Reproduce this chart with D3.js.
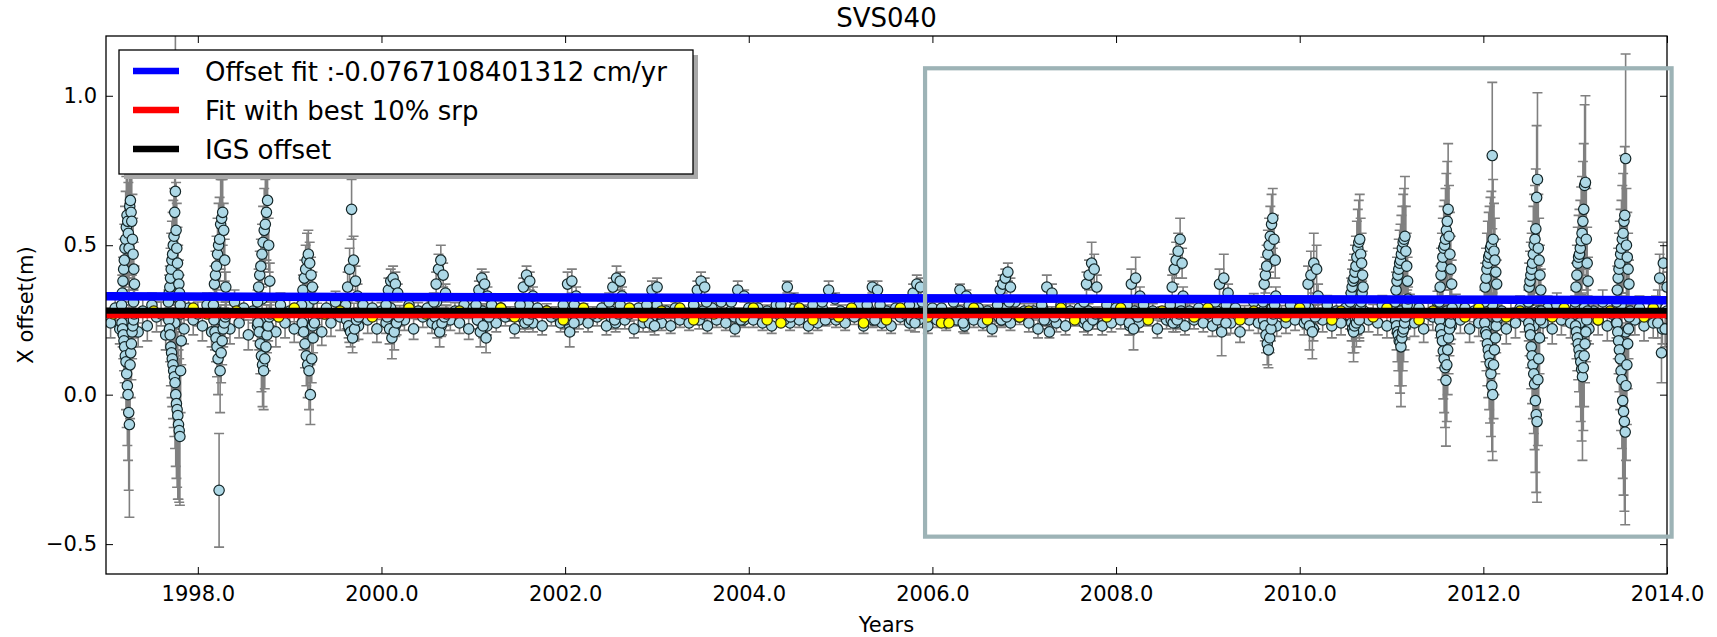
<!DOCTYPE html>
<html lang="en">
<head>
<meta charset="UTF-8">
<title>SVS040</title>
<script src="https://cdn.jsdelivr.net/npm/d3@7"></script>
<style>
  body { margin: 0; background: #fff; }
  svg text { font-family: "DejaVu Sans", sans-serif; fill: #000; }
</style>
</head>
<body>
<svg id="chart" width="1717" height="637"></svg>
<script>
// ---- data ----
const title = 'SVS040';
const xLabel = 'Years';
const yLabel = 'X offset(m)';
const xDomain = [1997.0, 2014.0];
const yDomain = [-0.6, 1.2];
const xTicks = [1998, 2000, 2002, 2004, 2006, 2008, 2010, 2012, 2014];
const yTicks = [-0.5, 0.0, 0.5, 1.0];

const legendLabels = ['Offset fit :-0.0767108401312 cm/yr', 'Fit with best 10% srp', 'IGS offset'];

// fitted lines, [year, offset]
const offsetFit = [[1997.0, 0.329], [2014.0, 0.316]];
const bestFit = [[1997.0, 0.266], [2014.0, 0.266]];
const igsOffset = [[1997.0, 0.281], [2014.0, 0.281]];

// zoom window drawn on the chart (years / metres)
const zoomWindow = [2005.92, 2014.05, -0.475, 1.092];

// quiet-period solutions, one every 0.1 yr
const bandStart = 1997.05;
const bandLow = [
  0.24,0.22,0.25,0.21,0.23,0.26,0.20,0.24,0.22,0.25, // 1997
  0.23,0.21,0.25,0.22,0.24,0.20,0.23,0.25,0.21,0.24, // 1998
  0.22,0.25,0.23,0.21,0.24,0.26,0.22,0.23,0.25,0.22, // 1999
  0.24,0.23,0.25,0.22,0.26,0.24,0.23,0.25,0.24,0.22, // 2000
  0.25,0.23,0.24,0.26,0.22,0.25,0.24,0.23,0.26,0.24, // 2001
  0.23,0.25,0.24,0.26,0.23,0.24,0.25,0.22,0.24,0.26, // 2002
  0.24,0.23,0.25,0.24,0.26,0.23,0.25,0.24,0.22,0.25, // 2003
  0.25,0.24,0.23,0.26,0.24,0.25,0.23,0.24,0.26,0.25, // 2004
  0.24,0.26,0.23,0.25,0.24,0.23,0.26,0.24,0.25,0.23, // 2005
  0.25,0.24,0.26,0.23,0.25,0.24,0.22,0.25,0.24,0.26, // 2006
  0.24,0.22,0.25,0.24,0.23,0.26,0.24,0.25,0.23,0.24, // 2007
  0.25,0.23,0.24,0.26,0.22,0.25,0.24,0.23,0.25,0.24, // 2008
  0.23,0.25,0.24,0.21,0.25,0.24,0.26,0.23,0.24,0.25, // 2009
  0.24,0.22,0.25,0.23,0.24,0.26,0.22,0.25,0.24,0.23, // 2010
  0.25,0.23,0.24,0.22,0.26,0.24,0.23,0.25,0.22,0.24, // 2011
  0.23,0.25,0.22,0.24,0.26,0.23,0.24,0.22,0.25,0.24, // 2012
  0.24,0.22,0.25,0.23,0.24,0.21,0.25,0.23,0.24,0.22  // 2013
];
const bandHigh = [
  0.29,0.27,0.31,0.28,0.30,0.27,0.32,0.28,0.29,0.27, // 1997
  0.30,0.28,0.27,0.31,0.29,0.28,0.32,0.27,0.30,0.28, // 1998
  0.28,0.30,0.27,0.29,0.31,0.28,0.27,0.30,0.29,0.28, // 1999
  0.29,0.27,0.30,0.28,0.29,0.31,0.27,0.28,0.30,0.29, // 2000
  0.28,0.30,0.29,0.27,0.28,0.30,0.29,0.28,0.27,0.29, // 2001
  0.30,0.28,0.27,0.29,0.28,0.30,0.27,0.29,0.28,0.30, // 2002
  0.28,0.29,0.27,0.30,0.28,0.29,0.31,0.28,0.27,0.29, // 2003
  0.29,0.28,0.30,0.27,0.29,0.28,0.30,0.29,0.27,0.28, // 2004
  0.28,0.30,0.29,0.27,0.28,0.29,0.27,0.30,0.28,0.29, // 2005
  0.29,0.27,0.28,0.30,0.29,0.28,0.27,0.29,0.31,0.28, // 2006
  0.28,0.29,0.27,0.30,0.28,0.29,0.28,0.27,0.30,0.29, // 2007
  0.29,0.28,0.30,0.28,0.27,0.29,0.30,0.28,0.29,0.27, // 2008
  0.28,0.30,0.29,0.27,0.31,0.28,0.29,0.27,0.30,0.29, // 2009
  0.29,0.27,0.30,0.28,0.29,0.31,0.28,0.27,0.30,0.28, // 2010
  0.28,0.30,0.29,0.27,0.31,0.28,0.30,0.29,0.28,0.27, // 2011
  0.30,0.28,0.27,0.29,0.31,0.28,0.29,0.30,0.27,0.29, // 2012
  0.29,0.28,0.31,0.27,0.30,0.28,0.29,0.27,0.31,0.28  // 2013
];
// typical formal error of quiet-period solutions, per year 1997..2013
const bandErr = [0.05,0.05,0.045,0.035,0.03,0.03,0.025,0.025,0.025,0.025,0.03,0.03,0.035,0.04,0.045,0.05,0.05];

// eclipse-season bursts: centre epoch, then successive solutions and their errors
const burstSpan = 0.14;
const burstT = [1997.24, 1997.75, 1998.24, 1998.72, 1999.20, 1999.68, 2000.12, 2000.64, 2001.10, 2001.58,
                2002.05, 2002.55, 2002.96, 2003.47, 2003.88, 2004.42, 2004.87, 2005.36, 2005.82, 2006.30,
                2006.78, 2007.26, 2007.72, 2008.19, 2008.66, 2009.15, 2009.67, 2010.13, 2010.62, 2011.11,
                2011.59, 2012.08, 2012.56, 2013.07, 2013.52, 2013.95];
const burstY = [
  [0.30,0.24,0.34,0.22,0.38,0.20,0.42,0.18,0.45,0.16,0.49,0.13,0.52,0.11,0.56,0.07,0.60,0.03,0.58,0.00,0.54,-0.06,0.49,-0.10,0.63,0.10,0.65,0.14,0.61,0.17,0.58,0.21,0.52,0.23,0.47,0.25,0.42,0.27,0.37],
  [0.31,0.25,0.34,0.22,0.36,0.20,0.39,0.16,0.42,0.14,0.45,0.12,0.47,0.10,0.50,0.08,0.53,0.06,0.61,0.04,0.68,0.00,0.55,-0.03,0.49,-0.05,0.44,-0.07,0.40,-0.10,0.37,-0.12,0.34,-0.14,0.30,0.08,0.27,0.18],
  [0.30,0.25,0.37,0.21,0.40,0.19,0.43,0.16,0.47,0.12,0.50,-0.32,0.52,0.08,0.57,0.14,0.59,0.18,0.61,0.22,0.55,0.24,0.45,0.26,0.36,0.27],
  [0.31,0.24,0.36,0.21,0.40,0.17,0.43,0.13,0.47,0.10,0.51,0.08,0.55,0.12,0.57,0.16,0.61,0.20,0.65,0.23,0.50,0.26,0.38,0.27],
  [0.30,0.24,0.35,0.21,0.39,0.17,0.42,0.13,0.45,0.10,0.47,0.08,0.44,0.00,0.40,0.12,0.36,0.19,0.32,0.24],
  [0.30,0.25,0.36,0.23,0.42,0.21,0.62,0.19,0.45,0.22,0.38,0.25,0.33,0.26],
  [0.30,0.26,0.35,0.22,0.38,0.19,0.39,0.21,0.37,0.24,0.34,0.26],
  [0.31,0.26,0.37,0.23,0.42,0.21,0.45,0.24,0.40,0.26,0.34,0.27],
  [0.30,0.25,0.35,0.21,0.39,0.23,0.37,0.19,0.33,0.26],
  [0.30,0.26,0.36,0.24,0.40,0.25,0.38,0.27,0.33],
  [0.30,0.25,0.37,0.21,0.38,0.24,0.33],
  [0.31,0.26,0.36,0.25,0.39,0.27,0.38,0.33],
  [0.30,0.24,0.35,0.23,0.36,0.27],
  [0.30,0.26,0.35,0.25,0.38,0.27,0.36,0.31],
  [0.31,0.26,0.35,0.25,0.33],
  [0.30,0.25,0.36,0.26,0.32],
  [0.31,0.25,0.35,0.27,0.32],
  [0.30,0.26,0.36,0.25,0.35,0.30],
  [0.30,0.25,0.34,0.24,0.37,0.27,0.36,0.31],
  [0.31,0.25,0.35,0.24,0.33],
  [0.30,0.26,0.35,0.25,0.37,0.27,0.39,0.26,0.41,0.31,0.36],
  [0.30,0.25,0.36,0.21,0.34,0.26],
  [0.31,0.25,0.37,0.23,0.40,0.26,0.44,0.25,0.42,0.27,0.36],
  [0.30,0.24,0.37,0.22,0.39,0.26,0.33],
  [0.30,0.25,0.36,0.24,0.42,0.26,0.45,0.25,0.48,0.27,0.52,0.28,0.44,0.33],
  [0.31,0.25,0.37,0.21,0.39,0.24,0.34],
  [0.31,0.25,0.37,0.23,0.40,0.20,0.43,0.17,0.47,0.15,0.50,0.19,0.53,0.22,0.57,0.25,0.59,0.27,0.52,0.30,0.45,0.33],
  [0.30,0.25,0.37,0.23,0.40,0.21,0.44,0.26,0.42,0.33],
  [0.31,0.26,0.34,0.24,0.36,0.22,0.38,0.21,0.39,0.23,0.41,0.25,0.43,0.24,0.46,0.26,0.49,0.27,0.51,0.25,0.52,0.29,0.47,0.31,0.44,0.34,0.40,0.36],
  [0.31,0.25,0.35,0.23,0.38,0.21,0.40,0.20,0.42,0.18,0.44,0.175,0.45,0.16,0.47,0.19,0.49,0.21,0.51,0.22,0.52,0.24,0.53,0.26,0.48,0.28,0.43,0.30,0.38,0.32],
  [0.31,0.25,0.36,0.22,0.40,0.20,0.43,0.18,0.46,0.146,0.49,0.12,0.50,0.09,0.52,0.048,0.55,0.10,0.58,0.15,0.62,0.19,0.53,0.22,0.47,0.24,0.42,0.27,0.37,0.29],
  [0.31,0.24,0.36,0.21,0.39,0.20,0.42,0.17,0.44,0.15,0.46,0.13,0.47,0.105,0.49,0.07,0.50,0.03,0.80,0.00,0.52,0.10,0.48,0.15,0.45,0.19,0.41,0.23,0.37,0.26],
  [0.31,0.24,0.36,0.22,0.38,0.20,0.40,0.16,0.42,0.13,0.44,0.10,0.47,0.07,0.50,0.036,0.52,-0.02,0.555,-0.067,0.66,-0.09,0.72,0.05,0.49,0.12,0.45,0.19,0.40,0.25,0.35,0.28],
  [0.31,0.23,0.36,0.21,0.40,0.19,0.44,0.17,0.46,0.15,0.47,0.13,0.49,0.11,0.515,0.085,0.54,0.06,0.58,0.09,0.62,0.13,0.70,0.17,0.71,0.21,0.52,0.25,0.44,0.28,0.38],
  [0.31,0.24,0.35,0.21,0.39,0.18,0.42,0.15,0.44,0.12,0.47,0.08,0.49,0.05,0.52,-0.02,0.54,-0.056,0.58,-0.09,0.60,-0.125,0.79,0.03,0.50,0.10,0.46,0.17,0.42,0.22,0.37,0.26],
  [0.30,0.24,0.39,0.14,0.44,0.22,0.36,0.27]
];
const burstE = [
  [0.04,0.04,0.06,0.06,0.08,0.08,0.10,0.10,0.12,0.12,0.14,0.14,0.16,0.16,0.17,0.18,0.20,0.20,0.19,0.22,0.17,0.26,0.15,0.31,0.20,0.18,0.22,0.15,0.20,0.12,0.18,0.09,0.15,0.07,0.12,0.06,0.09,0.05,0.06],
  [0.04,0.05,0.06,0.07,0.07,0.09,0.10,0.13,0.12,0.15,0.13,0.16,0.14,0.18,0.15,0.19,0.16,0.20,0.18,0.22,0.55,0.24,0.16,0.25,0.15,0.26,0.12,0.28,0.10,0.25,0.08,0.24,0.06,0.23,0.04,0.14,0.04,0.08],
  [0.04,0.04,0.06,0.06,0.08,0.08,0.10,0.10,0.12,0.12,0.14,0.19,0.14,0.14,0.15,0.10,0.13,0.08,0.11,0.06,0.09,0.05,0.07,0.04,0.05,0.04],
  [0.04,0.04,0.06,0.06,0.08,0.10,0.09,0.12,0.10,0.14,0.12,0.13,0.14,0.10,0.15,0.08,0.16,0.06,0.14,0.05,0.09,0.04,0.06,0.04],
  [0.03,0.04,0.05,0.06,0.06,0.08,0.08,0.10,0.09,0.11,0.08,0.13,0.07,0.10,0.06,0.08,0.05,0.05,0.04,0.04],
  [0.03,0.03,0.05,0.04,0.07,0.05,0.10,0.05,0.08,0.04,0.05,0.03,0.04,0.03],
  [0.03,0.03,0.04,0.05,0.04,0.07,0.04,0.06,0.04,0.04,0.03,0.03],
  [0.03,0.03,0.04,0.04,0.05,0.05,0.05,0.04,0.04,0.03,0.03,0.03],
  [0.03,0.03,0.03,0.05,0.03,0.04,0.04,0.05,0.03,0.03],
  [0.03,0.03,0.03,0.03,0.03,0.03,0.03,0.02,0.03],
  [0.03,0.03,0.04,0.05,0.04,0.03,0.03],
  [0.03,0.03,0.03,0.03,0.04,0.02,0.03,0.03],
  [0.02,0.03,0.03,0.03,0.03,0.02],
  [0.02,0.02,0.03,0.03,0.03,0.02,0.03,0.02],
  [0.02,0.02,0.03,0.02,0.02],
  [0.02,0.02,0.02,0.02,0.02],
  [0.02,0.02,0.03,0.02,0.02],
  [0.02,0.02,0.02,0.02,0.03,0.02],
  [0.02,0.02,0.03,0.03,0.03,0.02,0.03,0.02],
  [0.02,0.02,0.02,0.03,0.02],
  [0.02,0.02,0.03,0.02,0.03,0.02,0.03,0.02,0.03,0.02,0.03],
  [0.02,0.02,0.04,0.02,0.03,0.02],
  [0.02,0.02,0.04,0.03,0.05,0.03,0.07,0.03,0.05,0.02,0.04],
  [0.02,0.04,0.05,0.07,0.07,0.03,0.03],
  [0.02,0.02,0.04,0.03,0.05,0.03,0.06,0.03,0.06,0.03,0.07,0.03,0.05,0.03],
  [0.02,0.03,0.05,0.08,0.08,0.04,0.03],
  [0.02,0.03,0.05,0.05,0.06,0.06,0.07,0.07,0.08,0.06,0.09,0.05,0.10,0.04,0.10,0.03,0.10,0.03,0.08,0.03,0.06,0.03],
  [0.02,0.03,0.06,0.08,0.08,0.09,0.10,0.04,0.08,0.04],
  [0.03,0.04,0.05,0.06,0.06,0.08,0.07,0.10,0.08,0.09,0.09,0.07,0.10,0.08,0.12,0.06,0.13,0.05,0.14,0.06,0.15,0.04,0.12,0.04,0.10,0.04,0.08,0.04],
  [0.04,0.06,0.06,0.08,0.08,0.10,0.09,0.12,0.10,0.15,0.11,0.17,0.12,0.20,0.13,0.16,0.14,0.13,0.16,0.11,0.17,0.09,0.20,0.07,0.15,0.06,0.11,0.05,0.08,0.04],
  [0.04,0.06,0.07,0.09,0.09,0.11,0.11,0.13,0.13,0.16,0.14,0.18,0.15,0.20,0.17,0.22,0.19,0.19,0.20,0.15,0.22,0.12,0.17,0.09,0.14,0.07,0.11,0.05,0.08,0.04],
  [0.04,0.06,0.08,0.10,0.10,0.12,0.12,0.14,0.14,0.16,0.15,0.18,0.16,0.20,0.17,0.21,0.18,0.22,0.245,0.22,0.20,0.18,0.16,0.15,0.14,0.12,0.11,0.09,0.08,0.06],
  [0.04,0.06,0.08,0.09,0.10,0.11,0.11,0.14,0.12,0.16,0.14,0.18,0.16,0.20,0.17,0.22,0.18,0.24,0.20,0.26,0.24,0.27,0.29,0.22,0.18,0.17,0.14,0.12,0.10,0.07,0.07,0.05],
  [0.04,0.06,0.08,0.09,0.10,0.11,0.12,0.12,0.14,0.14,0.15,0.17,0.16,0.20,0.18,0.24,0.19,0.28,0.20,0.21,0.22,0.17,0.27,0.13,0.29,0.10,0.17,0.07,0.12,0.05,0.08],
  [0.04,0.06,0.08,0.09,0.10,0.11,0.12,0.14,0.14,0.17,0.15,0.20,0.16,0.23,0.18,0.26,0.20,0.28,0.22,0.30,0.23,0.31,0.35,0.25,0.19,0.20,0.15,0.15,0.12,0.10,0.08,0.06],
  [0.03,0.05,0.08,0.10,0.07,0.06,0.05,0.04]
];

// best 10% srp solutions
const bestT = [1997.08,1997.52,1997.95,1998.10,1998.42,1998.88,1999.05,1999.38,1999.55,1999.90,
               2000.30,2000.48,2000.85,2001.30,2001.45,2001.80,2001.98,2002.20,2002.40,2002.70,
               2002.85,2003.05,2003.25,2003.40,2003.62,2003.95,2004.05,2004.20,2004.35,2004.55,
               2004.70,2004.98,2005.12,2005.25,2005.50,2005.65,2005.95,2006.10,2006.18,2006.45,
               2006.60,2006.95,2007.05,2007.40,2007.55,2007.90,2008.05,2008.35,2008.50,2008.85,
               2009.00,2009.35,2009.50,2009.85,2010.00,2010.35,2010.45,2010.80,2010.95,2011.30,
               2011.45,2011.80,2011.95,2012.25,2012.40,2012.75,2012.88,2013.25,2013.38,2013.75,2013.85];
const bestY = [0.27,0.28,0.29,0.27,0.28,0.26,0.29,0.27,0.28,0.26,
               0.29,0.27,0.28,0.29,0.26,0.28,0.25,0.29,0.27,0.29,
               0.26,0.28,0.29,0.25,0.27,0.26,0.29,0.25,0.24,0.29,
               0.25,0.26,0.29,0.24,0.25,0.29,0.26,0.24,0.24,0.29,
               0.25,0.26,0.28,0.29,0.25,0.26,0.29,0.25,0.28,0.26,
               0.29,0.25,0.28,0.26,0.29,0.25,0.28,0.26,0.29,0.25,
               0.28,0.26,0.29,0.26,0.28,0.26,0.29,0.25,0.28,0.26,0.29];

// ---- layout ----
const margin = {left: 106, right: 50, top: 36, bottom: 63};
const width = 1717, height = 637;

const svg = d3.select('#chart');
svg.append('rect').attr('width', width).attr('height', height).attr('fill', '#fff');

const x = d3.scaleLinear().domain(xDomain).range([margin.left, width - margin.right]);
const y = d3.scaleLinear().domain(yDomain).range([height - margin.bottom, margin.top]);

// assemble points
const points = [];
bandLow.forEach((v, i) => {
  const t = bandStart + i * 0.1;
  points.push({t: t, y: v, e: bandErr[Math.floor(t - 1997)]});
});
bandHigh.forEach((v, i) => {
  const t = bandStart + 0.05 + i * 0.1;
  points.push({t: t, y: v, e: bandErr[Math.min(16, Math.floor(t - 1997))] * 0.8});
});
burstT.forEach((c, i) => {
  const n = burstY[i].length;
  const step = burstSpan / (n - 1);
  burstY[i].forEach((v, j) => {
    points.push({t: c + (j - (n - 1) / 2) * step, y: v, e: burstE[i][j]});
  });
});

svg.append('clipPath').attr('id', 'clip')
  .append('rect')
  .attr('x', x.range()[0]).attr('y', y.range()[1])
  .attr('width', x.range()[1] - x.range()[0])
  .attr('height', y.range()[0] - y.range()[1]);

const plot = svg.append('g').attr('clip-path', 'url(#clip)');

// error bars
const cap = 5;
plot.append('g')
  .attr('fill', 'none')
  .attr('stroke', '#808080')
  .attr('stroke-width', 1.6)
  .selectAll('path').data(points).join('path')
  .attr('d', d => {
    const px = x(d.t), y1 = y(d.y + d.e), y2 = y(d.y - d.e);
    return `M${px},${y1}V${y2}M${px - cap},${y1}H${px + cap}M${px - cap},${y2}H${px + cap}`;
  });

// all solutions
plot.append('g')
  .selectAll('circle').data(points).join('circle')
  .attr('cx', d => x(d.t))
  .attr('cy', d => y(d.y))
  .attr('r', 5.2)
  .attr('fill', '#add8e6')
  .attr('stroke', '#142628')
  .attr('stroke-width', 1.2);

// best 10% srp
plot.append('g')
  .selectAll('circle').data(bestT).join('circle')
  .attr('cx', d => x(d))
  .attr('cy', (d, i) => y(bestY[i]))
  .attr('r', 5.2)
  .attr('fill', '#ffff00')
  .attr('stroke', '#2a2a10')
  .attr('stroke-width', 1.2);

// fit lines
const line = d3.line().x(d => x(d[0])).y(d => y(d[1]));
plot.append('path').datum(offsetFit).attr('d', line).attr('stroke', '#0000ff').attr('stroke-width', 8.5).attr('fill', 'none');
plot.append('path').datum(bestFit).attr('d', line).attr('stroke', '#ff0000').attr('stroke-width', 6).attr('fill', 'none');
plot.append('path').datum(igsOffset).attr('d', line).attr('stroke', '#000000').attr('stroke-width', 6).attr('fill', 'none');

// axes (ticks pointing inward, on all four sides)
const fmt = d3.format('.1f');
const axisB = svg.append('g').attr('transform', `translate(0,${y.range()[0]})`)
  .call(d3.axisBottom(x).tickValues(xTicks).tickFormat(fmt).tickSizeInner(-7).tickSizeOuter(0).tickPadding(12));
const axisT = svg.append('g').attr('transform', `translate(0,${y.range()[1]})`)
  .call(d3.axisTop(x).tickValues(xTicks).tickFormat('').tickSizeInner(-7).tickSizeOuter(0));
const axisL = svg.append('g').attr('transform', `translate(${x.range()[0]},0)`)
  .call(d3.axisLeft(y).tickValues(yTicks).tickFormat(fmt).tickSizeInner(-7).tickSizeOuter(0).tickPadding(9));
const axisR = svg.append('g').attr('transform', `translate(${x.range()[1]},0)`)
  .call(d3.axisRight(y).tickValues(yTicks).tickFormat('').tickSizeInner(-7).tickSizeOuter(0));
[axisB, axisT, axisL, axisR].forEach(a => {
  a.select('.domain').remove();
  a.selectAll('.tick line').attr('stroke', '#000').attr('stroke-width', 1);
  a.selectAll('.tick text').attr('font-size', 21).attr('font-family', 'DejaVu Sans');
});

svg.append('rect')
  .attr('x', x.range()[0]).attr('y', y.range()[1])
  .attr('width', x.range()[1] - x.range()[0])
  .attr('height', y.range()[0] - y.range()[1])
  .attr('fill', 'none').attr('stroke', '#000').attr('stroke-width', 1.3);

// titles
svg.append('text').text(title)
  .attr('x', (x.range()[0] + x.range()[1]) / 2).attr('y', 27)
  .attr('text-anchor', 'middle').attr('font-size', 26);
svg.append('text').text(xLabel)
  .attr('x', (x.range()[0] + x.range()[1]) / 2).attr('y', 632)
  .attr('text-anchor', 'middle').attr('font-size', 21);
svg.append('text').text(yLabel)
  .attr('transform', `translate(33,${(y.range()[0] + y.range()[1]) / 2}) rotate(-90)`)
  .attr('text-anchor', 'middle').attr('font-size', 21);

// legend
const lg = svg.append('g').attr('transform', 'translate(119,50)');
lg.append('rect').attr('x', 5).attr('y', 5).attr('width', 574).attr('height', 124).attr('fill', '#a8a8a8');
lg.append('rect').attr('width', 574).attr('height', 124).attr('fill', '#fff').attr('stroke', '#000').attr('stroke-width', 1.3);
const legendColors = ['#0000ff', '#ff0000', '#000000'];
legendLabels.forEach((lab, i) => {
  const cy = 21 + i * 39;
  lg.append('line').attr('x1', 14).attr('x2', 60).attr('y1', cy).attr('y2', cy)
    .attr('stroke', legendColors[i]).attr('stroke-width', 6.5);
  lg.append('text').text(lab).attr('x', 86).attr('y', cy + 10).attr('font-size', 26);
});

// zoom window
svg.append('rect')
  .attr('x', x(zoomWindow[0])).attr('y', y(zoomWindow[3]))
  .attr('width', x(zoomWindow[1]) - x(zoomWindow[0]))
  .attr('height', y(zoomWindow[2]) - y(zoomWindow[3]))
  .attr('fill', 'none').attr('stroke', '#9db3b6').attr('stroke-width', 4.2);
</script>
</body>
</html>
